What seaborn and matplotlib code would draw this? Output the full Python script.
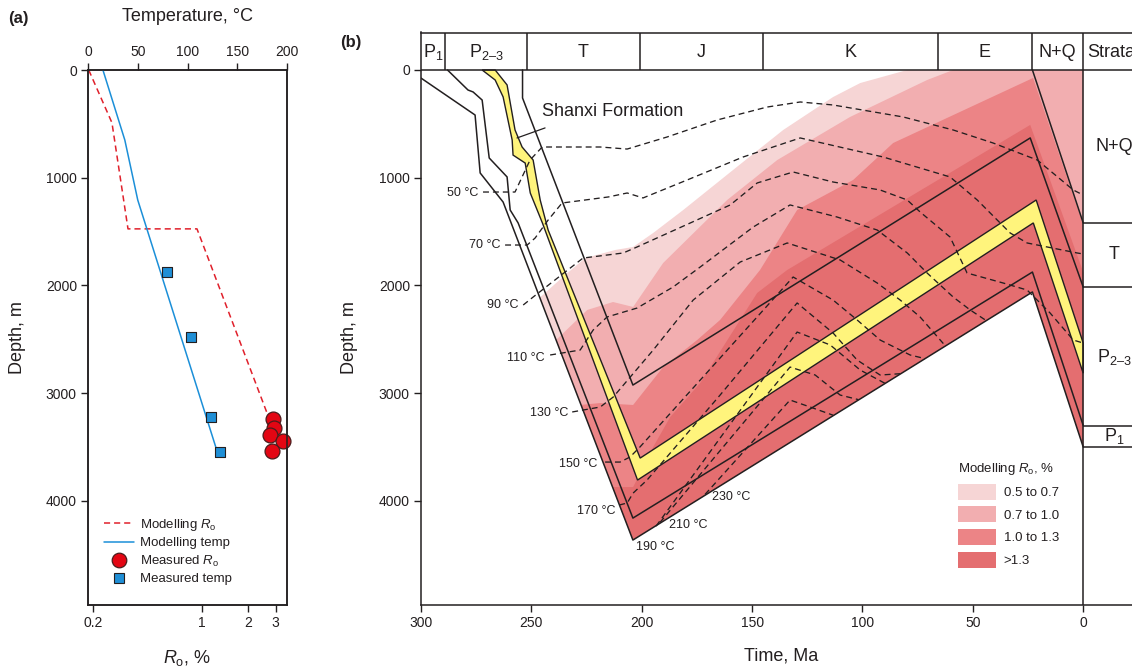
import numpy as np
import matplotlib
matplotlib.use("Agg")
import matplotlib.pyplot as plt
from matplotlib.patches import Polygon, Patch
from matplotlib.lines import Line2D
from matplotlib.ticker import FixedLocator, FixedFormatter, NullLocator
import seaborn as sns

sns.set_theme(style="ticks")
plt.rcParams["font.family"] = ["Liberation Sans", "DejaVu Sans"]
plt.rcParams["mathtext.fontset"] = "custom"
plt.rcParams["mathtext.rm"] = "Liberation Sans"
plt.rcParams["mathtext.it"] = "Liberation Sans:italic"
plt.rcParams["mathtext.bf"] = "Liberation Sans:bold"

INK = "#231f20"
RED_LINE = "#e0202b"
RED_FILL = "#e30613"
BLUE_LINE = "#1b8fd8"
BLUE_FILL = "#1f8fd6"
YELLOW = "#fff47c"
RO_COLORS = ["#f6d5d5", "#f2aeb0", "#ec8486", "#e46e70"]

# ---------------- (a) well profile ----------------
ro_model = [0.187, 0.264, 0.335, 0.933, 2.64]
ro_model_depth = [0, 490, 1475, 1475, 3185]
temp_model = [15, 37, 50, 130]
temp_model_depth = [0, 650, 1207, 3547]
ro_measured = [2.87, 2.94, 2.76, 3.33, 2.86]
ro_measured_depth = [3242, 3327, 3389, 3448, 3538]
temp_measured = [79.1, 103.2, 123.6, 133.0]
temp_measured_depth = [1873, 2476, 3225, 3550]

ro_ticks = [0.2, 1, 2, 3]
ro_tick_labels = ["0.2", "1", "2", "3"]
temp_ticks = [0, 50, 100, 150, 200]
depth_ticks = [0, 1000, 2000, 3000, 4000]

# ---------------- (b) burial history ----------------
period_bounds = [300, 289, 252, 201, 145, 66, 23, 0]
period_names = ["P$_1$", "P$_{2–3}$", "T", "J", "K", "E", "N+Q"]
strata_names = ["N+Q", "T", "P$_{2–3}$", "P$_1$"]
strata_tops = [0, 1420, 2015, 3305]
strata_bases = [1420, 2015, 3305, 3500]

# horizon burial paths (time, Ma / depth, m)
base_p1_t = [300, 275.5, 273.2, 262.8, 204, 23, 0]
base_p1_d = [75, 418, 956, 1226, 4364, 2061, 3500]
top_p1_t = [288, 278.7, 276.4, 272.3, 269.1, 261, 259.6, 256, 204, 23, 0]
top_p1_d = [0, 186, 204, 279, 817, 993, 1300, 1420, 4160, 1876, 3300]
shanxi_base_t = [272.3, 266.4, 262.8, 258.7, 258.3, 252.8, 250.5, 245, 201.9, 22.6, 0]
shanxi_base_d = [0, 93, 250, 650, 790, 864, 1142, 1420, 3807, 1420, 2815]
shanxi_top_t = [266.4, 261, 257.4, 254.2, 249.2, 246, 242.4, 200.7, 21.3, 0]
shanxi_top_d = [0, 139, 557, 715, 836, 1207, 1486, 3603, 1207, 2535]
base_t_t = [254, 254, 204, 24, 0]
base_t_d = [0, 260, 2925, 631, 2015]
base_nq_t = [23, 0]
base_nq_d = [0, 1420]

# vitrinite reflectance iso-lines (0.5, 0.7, 1.0, 1.3 %)
ro05_t = [247.4, 234.7, 225.6, 212, 203.9, 194.8, 181.2, 158.6, 135.9, 113.3, 101, 79.7, 0]
ro05_d = [2136, 1903, 1746, 1671, 1643, 1513, 1300, 928, 557, 251, 121, 0, 0]
ro07_t = [238.8, 224.7, 213, 203.9, 190.3, 161.3, 138.6, 105.6, 70.7, 58.9, 0]
ro07_d = [2507, 2228, 2154, 2200, 1792, 1207, 836, 436, 93, 0, 0]
ro10_t = [227.9, 218.8, 203.9, 190.3, 174.9, 164.5, 146.4, 129.6, 104.2, 86.1, 22.7, 0]
ro10_d = [3110, 3092, 3110, 2758, 2507, 2321, 1857, 1300, 1021, 678, 74, 1439]
ro13_t = [213, 203.9, 194.8, 187.1, 173.5, 147.7, 134.1, 24, 0]
ro13_d = [3872, 3872, 3500, 3222, 2906, 2070, 1857, 510, 1875]
ro_class_labels = ["0.5 to 0.7", "0.7 to 1.0", "1.0 to 1.3", ">1.3"]

# isotherms
iso50_t = [271.9, 257.4, 250.6, 245.1, 218.8, 206.6, 188.5, 165.8, 143.2, 128.2, 113.3, 81.6, 58.9, 40.8, 20.8, 4.5, 0]
iso50_d = [1133, 1133, 836, 715, 715, 734, 622, 464, 344, 297, 325, 436, 557, 678, 836, 1114, 1161]
iso70_t = [261.9, 251.9, 248.3, 242.4, 236.1, 215.2, 206.6, 199.4, 179.4, 154.1, 128.2, 90.6, 60.3, 48.0, 33.1, 25.4, 2.7, 0]
iso70_d = [1625, 1625, 1560, 1393, 1235, 1179, 1142, 1188, 1021, 808, 631, 808, 993, 1207, 1513, 1606, 1699, 1708]
iso90_t = [253.7, 249.2, 226.6, 208.4, 202.1, 159.9, 147.7, 131.4, 113.3, 92.0, 79.7, 73.9, 60.3, 52.6, 36.2, 25.4, 15.0, 4.5, 0]
iso90_d = [2182, 2108, 1746, 1699, 1643, 1253, 1049, 947, 1040, 1114, 1207, 1318, 1551, 1885, 1978, 2043, 2256, 2507, 2535]
iso110_t = [241.5, 227.9, 222.0, 215.7, 202.1, 185.8, 173.5, 149.5, 132.8, 111.5, 93.3, 79.7, 70.7, 58.9, 51.2, 44.4]
iso110_d = [2646, 2600, 2414, 2293, 2210, 2015, 1829, 1458, 1253, 1365, 1486, 1699, 1885, 2108, 2228, 2320]
iso130_t = [231.5, 218.8, 212.9, 194.8, 176.7, 155.4, 134.1, 110.1, 93.3, 82.9, 73.9, 62.5]
iso130_d = [3175, 3129, 3036, 2600, 2136, 1783, 1606, 1764, 1978, 2136, 2293, 2560]
iso150_t = [216.6, 209.8, 205.3, 200.8, 164.5, 131.4, 113.3, 102.4, 92.0, 78.4, 71.6]
iso150_d = [3640, 3640, 3593, 3500, 2674, 1922, 2136, 2321, 2507, 2646, 2680]
iso170_t = [210.2, 206.6, 203.9, 197.6, 164.5, 129.6, 113.3, 102.4, 92.0, 83.0]
iso170_d = [4039, 4020, 3928, 3807, 3018, 2163, 2442, 2693, 2832, 2820]
iso190_t = [193.5, 129.6, 114.6, 101.0, 89.7]
iso190_d = [4235, 2433, 2553, 2786, 2910]
iso210_t = [191.7, 132.8, 121.4, 110.1, 101.9]
iso210_d = [4200, 2758, 2832, 3018, 3060]
iso230_t = [171.3, 132.8, 123.7, 113.3]
iso230_d = [3940, 3064, 3129, 3205]

iso_labels = ["50 °C", "70 °C", "90 °C", "110 °C", "130 °C", "150 °C",
              "170 °C", "190 °C", "210 °C", "230 °C"]
iso_label_t = [274.2, 264.2, 256.0, 244.2, 233.4, 220.2, 212.1, 202.5, 187.6, 168.1]
iso_label_d = [1142, 1625, 2182, 2674, 3185, 3658, 4095, 4429, 4225, 3965]

time_ticks = [300, 250, 200, 150, 100, 50, 0]

# ---------------- figure ----------------
W, H = 1132, 667
fig = plt.figure(figsize=(W / 100, H / 100), dpi=100)


def frame(x0, y0, x1, y1):
    return [x0 / W, 1 - y1 / H, (x1 - x0) / W, (y1 - y0) / H]


def style_axis(ax):
    for sp in ax.spines.values():
        sp.set_color(INK)
        sp.set_linewidth(1.1)
    ax.tick_params(which="both", length=5, width=1.0, color=INK,
                   labelsize=10, labelcolor=INK, pad=3)


# ----- panel (a) -----
ax_a = fig.add_axes(frame(88, 70, 287, 605))
ax_a.set_xscale("log")
sns.lineplot(x=ro_model, y=ro_model_depth, sort=False, estimator=None,
             ax=ax_a, color=RED_LINE, lw=1.1, zorder=2)
ax_a.lines[-1].set_dashes((4, 2.6))
sns.scatterplot(x=ro_measured, y=ro_measured_depth, ax=ax_a, s=115,
                color=RED_FILL, edgecolor="#4a1c1c", linewidth=0.9, zorder=4,
                clip_on=False)
ax_a.set_xlim(0.185, 3.55)
ax_a.set_ylim(4967, 0)
ax_a.xaxis.set_major_locator(FixedLocator(ro_ticks))
ax_a.xaxis.set_major_formatter(FixedFormatter(ro_tick_labels))
ax_a.xaxis.set_minor_locator(NullLocator())
ax_a.set_yticks(depth_ticks)
ax_a.set_xlabel("$R_\\mathrm{o}$, %", fontsize=13, color=INK)
ax_a.xaxis.set_label_coords(0.497, -0.080)
ax_a.set_ylabel("Depth, m", fontsize=13, color=INK)
ax_a.yaxis.set_label_coords(-0.312, 0.5)
style_axis(ax_a)

ax_t = ax_a.twiny()
sns.lineplot(x=temp_model, y=temp_model_depth, sort=False, estimator=None,
             ax=ax_t, color=BLUE_LINE, lw=1.1, zorder=2)
sns.scatterplot(x=temp_measured, y=temp_measured_depth, ax=ax_t, marker="s",
                s=48, color=BLUE_FILL, edgecolor=INK, linewidth=0.8, zorder=4)
ax_t.set_xlim(0, 200)
ax_t.set_ylim(4967, 0)
ax_t.set_xticks(temp_ticks)
ax_t.set_xlabel("Temperature, °C", fontsize=13, color=INK)
ax_t.xaxis.set_label_coords(0.5, 1.0916)
ax_t.set_ylabel("")
style_axis(ax_t)

handles_a = [
    Line2D([], [], color=RED_LINE, lw=1.1, dashes=(4, 2.6)),
    Line2D([], [], color=BLUE_LINE, lw=1.1),
    Line2D([], [], ls="none", marker="o", ms=10.5, mfc=RED_FILL, mec="#4a1c1c", mew=0.9),
    Line2D([], [], ls="none", marker="s", ms=6.8, mfc=BLUE_FILL, mec=INK, mew=0.8),
]
labels_a = ["Modelling $R_\\mathrm{o}$", "Modelling temp",
            "Measured $R_\\mathrm{o}$", "Measured temp"]
ax_t.legend(handles_a, labels_a, loc="upper left", frameon=False,
            bbox_to_anchor=(104 / W, 1 - 517 / H), bbox_transform=fig.transFigure,
            borderaxespad=0, borderpad=0, fontsize=9.5, handlelength=2.3,
            handletextpad=0.45, labelspacing=0.32, labelcolor=INK)

# ----- panel (b) -----
ax_b = fig.add_axes(frame(421, 32.5, 1145, 605))
ax_b.set_xlim(300, -28)
ax_b.set_ylim(4967, -348)

sediment = list(zip([300, 0], [0, 0])) + list(zip(base_p1_t[::-1], base_p1_d[::-1]))
sed_patch = Polygon(sediment, closed=True, facecolor="none", edgecolor="none")
ax_b.add_patch(sed_patch)

for (lt, ld), col in zip([(ro05_t, ro05_d), (ro07_t, ro07_d),
                          (ro10_t, ro10_d), (ro13_t, ro13_d)], RO_COLORS):
    pt = np.r_[300, lt, -5, -5, 300]
    pd = np.r_[ld[0], ld, ld[-1], 6000, 6000]
    for f in ax_b.fill(pt, pd, facecolor=col, edgecolor="none", lw=0, zorder=1):
        f.set_clip_path(sed_patch)

band = list(zip(shanxi_top_t, shanxi_top_d)) + list(zip(shanxi_base_t[::-1], shanxi_base_d[::-1]))
ax_b.add_patch(Polygon(band, closed=True, facecolor=YELLOW, edgecolor=INK,
                       lw=1.0, zorder=2.5))

isotherms = [(iso50_t, iso50_d), (iso70_t, iso70_d), (iso90_t, iso90_d),
             (iso110_t, iso110_d), (iso130_t, iso130_d), (iso150_t, iso150_d),
             (iso170_t, iso170_d), (iso190_t, iso190_d), (iso210_t, iso210_d),
             (iso230_t, iso230_d)]
for it, idp in isotherms:
    ax_b.plot(it, idp, color=INK, lw=0.95, dashes=(4.5, 3), zorder=3)
for lab, lt, ld in zip(iso_labels, iso_label_t, iso_label_d):
    ha = "left" if lab in ("190 °C", "210 °C", "230 °C") else "right"
    ax_b.text(lt, ld, lab, ha=ha, va="center", fontsize=9, color=INK, zorder=6)

for ht, hd in [(base_p1_t, base_p1_d), (top_p1_t, top_p1_d),
               (base_t_t, base_t_d), (base_nq_t, base_nq_d)]:
    ax_b.plot(ht, hd, color=INK, lw=1.1, zorder=4)

# stratigraphic header and present-day strata column
ax_b.axhline(0, color=INK, lw=1.1, zorder=5)
ax_b.vlines(period_bounds[1:-1], -348, 0, color=INK, lw=1.1, zorder=5)
ax_b.vlines([0], -348, 4967, color=INK, lw=1.1, zorder=5)
for name, a0, a1 in zip(period_names, period_bounds[:-1], period_bounds[1:]):
    ax_b.text((a0 + a1) / 2, -165, name, ha="center", va="center",
              fontsize=13, color=INK)
ax_b.text(-1.6, -165, "Strata", ha="left", va="center", fontsize=13, color=INK)
ax_b.hlines(strata_bases, 0, -28, color=INK, lw=1.1, zorder=5)
for name, top, base in zip(strata_names, strata_tops, strata_bases):
    ax_b.text(-14, (top + base) / 2, name, ha="center", va="center",
              fontsize=13, color=INK)

ax_b.plot([256.5, 243.8], [631, 538], color=INK, lw=0.9, zorder=6)
ax_b.text(245.1, 381, "Shanxi Formation", ha="left", va="center",
          fontsize=13, color=INK, zorder=6)

ax_b.set_xticks(time_ticks)
ax_b.set_yticks(depth_ticks)
ax_b.spines["right"].set_visible(False)
ax_b.set_xlabel("Time, Ma", fontsize=13, color=INK)
ax_b.xaxis.set_label_coords(0.497, -0.075)
ax_b.set_ylabel("Depth, m", fontsize=13, color=INK)
ax_b.yaxis.set_label_coords(-0.087, 0.468)
style_axis(ax_b)

handles_b = [Patch(facecolor=c, edgecolor="none") for c in RO_COLORS]
ax_b.legend(handles_b, ro_class_labels, title="Modelling $R_\\mathrm{o}$, %",
            loc="upper left", bbox_to_anchor=(958 / W, 1 - 461 / H),
            bbox_transform=fig.transFigure, frameon=False, borderaxespad=0,
            borderpad=0, fontsize=9.5, title_fontsize=9.5, handlelength=2.9,
            handleheight=1.5, handletextpad=0.55, labelspacing=0.5,
            alignment="left", labelcolor=INK)
ax_b.get_legend().get_title().set_color(INK)

fig.text(8 / W, 1 - 18 / H, "(a)", fontsize=12, fontweight="bold", color=INK,
         ha="left", va="center")
fig.text(340 / W, 1 - 43 / H, "(b)", fontsize=12, fontweight="bold", color=INK,
         ha="left", va="center")

fig.savefig("out.png", dpi=100)
